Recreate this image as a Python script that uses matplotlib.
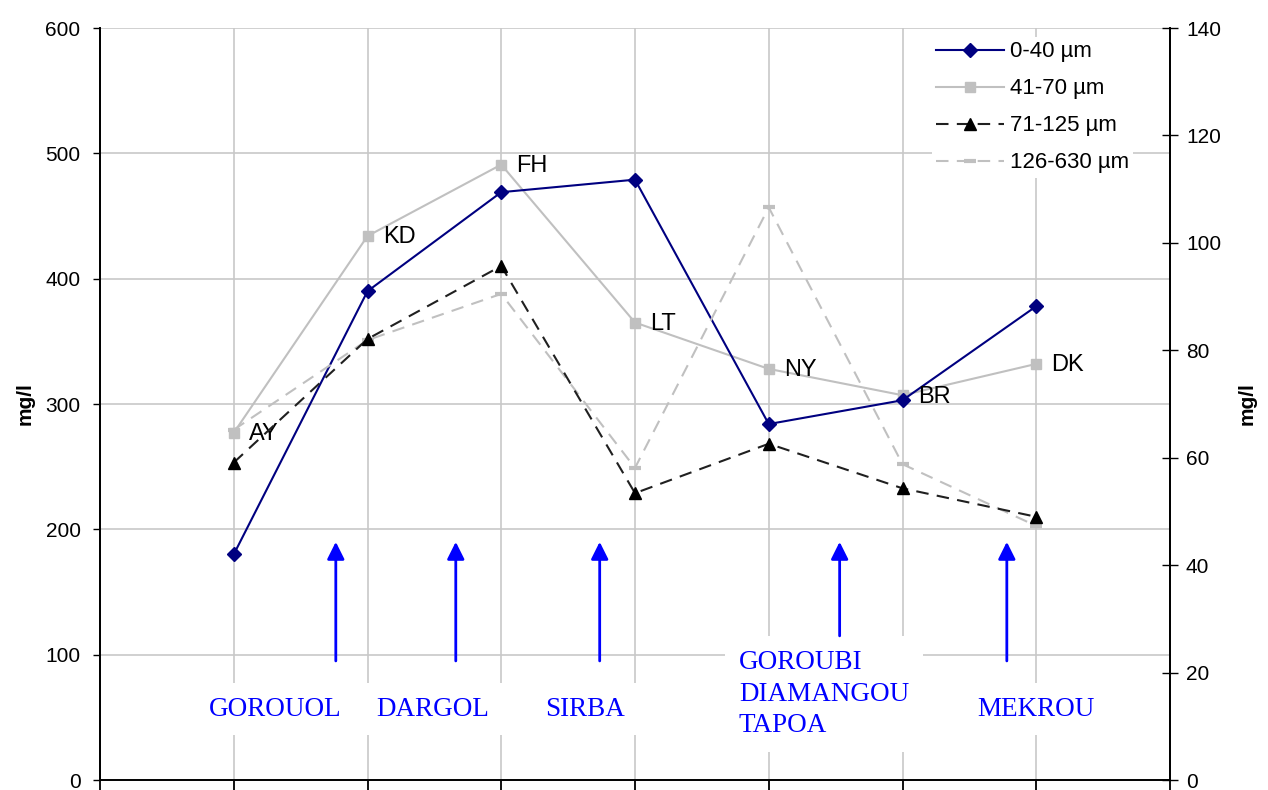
import matplotlib.pyplot as plt
import numpy as np

plt.rcParams['font.family'] = ['Liberation Sans', 'DejaVu Sans']

# stations (data labels) and river names
stations = ['AY', 'KD', 'FH', 'LT', 'NY', 'BR', 'DK']
s_0_40 = [180, 390, 469, 479, 284, 303, 378]        # left axis
s_41_70 = [277, 434, 491, 365, 328, 307, 332]       # left axis
s_71_125 = [59.1, 82.1, 95.7, 53.4, 62.6, 54.3, 49.0]    # right axis
s_126_630 = [65.2, 81.9, 90.5, 58.1, 106.6, 58.8, 47.3]  # right axis

rivers = ['GOROUOL', 'DARGOL', 'SIRBA', 'GOROUBI\nDIAMANGOU\nTAPOA', 'MEKROU']
river_x = [0.31, 1.49, 2.63, 3.776, 6.0]
river_y = [56.6, 56.6, 56.6, 68.6, 56.6]
river_ha = ['center', 'center', 'center', 'left', 'center']
arrow_x = [0.763, 1.66, 2.736, 4.53, 5.78]
arrow_bottom = [95, 95, 95, 115, 95]
arrow_top = 190

x = np.arange(len(stations))

fig = plt.figure(figsize=(12.68, 7.90), dpi=100)
ax1 = fig.add_axes([100 / 1268, 10 / 790, 1070 / 1268, 752 / 790])
ax2 = ax1.twinx()

grid_c = '#c8c8c8'
l1, = ax1.plot(x, s_0_40, color='#000080', lw=1.5, marker='D', ms=7.5,
               label='0-40 µm', zorder=5)
l2, = ax1.plot(x, s_41_70, color='#c0c0c0', lw=1.5, marker='s', ms=7.5,
               label='41-70 µm', zorder=4)
l3, = ax2.plot(x, s_71_125, color='#202020', lw=1.5, ls=(0, (6, 4)),
               marker='^', ms=8.5, mfc='black', mec='black',
               label='71-125 µm', zorder=5)
l4, = ax2.plot(x, s_126_630, color='#c0c0c0', lw=1.5, ls=(0, (6, 4)),
               marker='_', ms=9, mew=3, label='126-630 µm', zorder=4)

for xi, yi, s in zip(x, s_41_70, stations):
    ax1.annotate(s, (xi, yi), xytext=(11, -1), textcoords='offset points',
                 ha='left', va='center', fontsize=17, zorder=6)

ax1.set_xlim(-1, 7)
ax1.set_ylim(0, 600)
ax2.set_ylim(0, 140)
ax1.set_xticks(np.arange(-1, 8))
ax1.set_xticklabels([])
ax1.set_yticks(np.arange(0, 601, 100))
ax2.set_yticks(np.arange(0, 141, 20))
ax1.grid(True, color=grid_c, lw=1.2)
ax1.set_axisbelow(True)

ax1.tick_params(axis='x', direction='out', length=7, width=1.3)
ax1.tick_params(axis='y', direction='out', length=5, width=1.0,
                labelsize=15, pad=9)
ax2.tick_params(axis='y', direction='inout', length=11, width=1.0,
                labelsize=15, pad=6)

for ax in (ax1, ax2):
    ax.spines['top'].set_visible(False)
    for side in ('left', 'right', 'bottom'):
        ax.spines[side].set_linewidth(1.3)
ax1.spines['bottom'].set_color('#333333')

ax1.set_ylabel('mg/l', fontsize=15, fontweight='bold', labelpad=8)
ax2.set_ylabel('mg/l', fontsize=15, fontweight='bold', rotation=90,
               labelpad=12)

# river labels and arrows
for name, rx, ry, ha in zip(rivers, river_x, river_y, river_ha):
    ax1.text(rx, ry, name, ha=ha, va='center', color='#0000ff',
             fontsize=19.5, family=['Liberation Serif', 'DejaVu Serif'],
             linespacing=1.35, zorder=3,
             bbox=dict(boxstyle='square,pad=0.5', fc='white', ec='none'))
for ax_, ab in zip(arrow_x, arrow_bottom):
    ax1.annotate('', xy=(ax_, arrow_top), xytext=(ax_, ab),
                 arrowprops=dict(arrowstyle='-|>', color='#0000ff', lw=2,
                                 mutation_scale=26, shrinkA=0, shrinkB=0),
                 zorder=3)

leg = ax2.legend(handles=[l1, l2, l3, l4], loc='upper left',
                 bbox_to_anchor=(0.767, 1.003), fontsize=16, frameon=True,
                 fancybox=False, edgecolor='none', facecolor='white',
                 framealpha=1, handlelength=3.05, handletextpad=0.25,
                 labelspacing=0.72, borderpad=0.2)
leg.set_zorder(10)

fig.savefig('out.png', dpi=100)
